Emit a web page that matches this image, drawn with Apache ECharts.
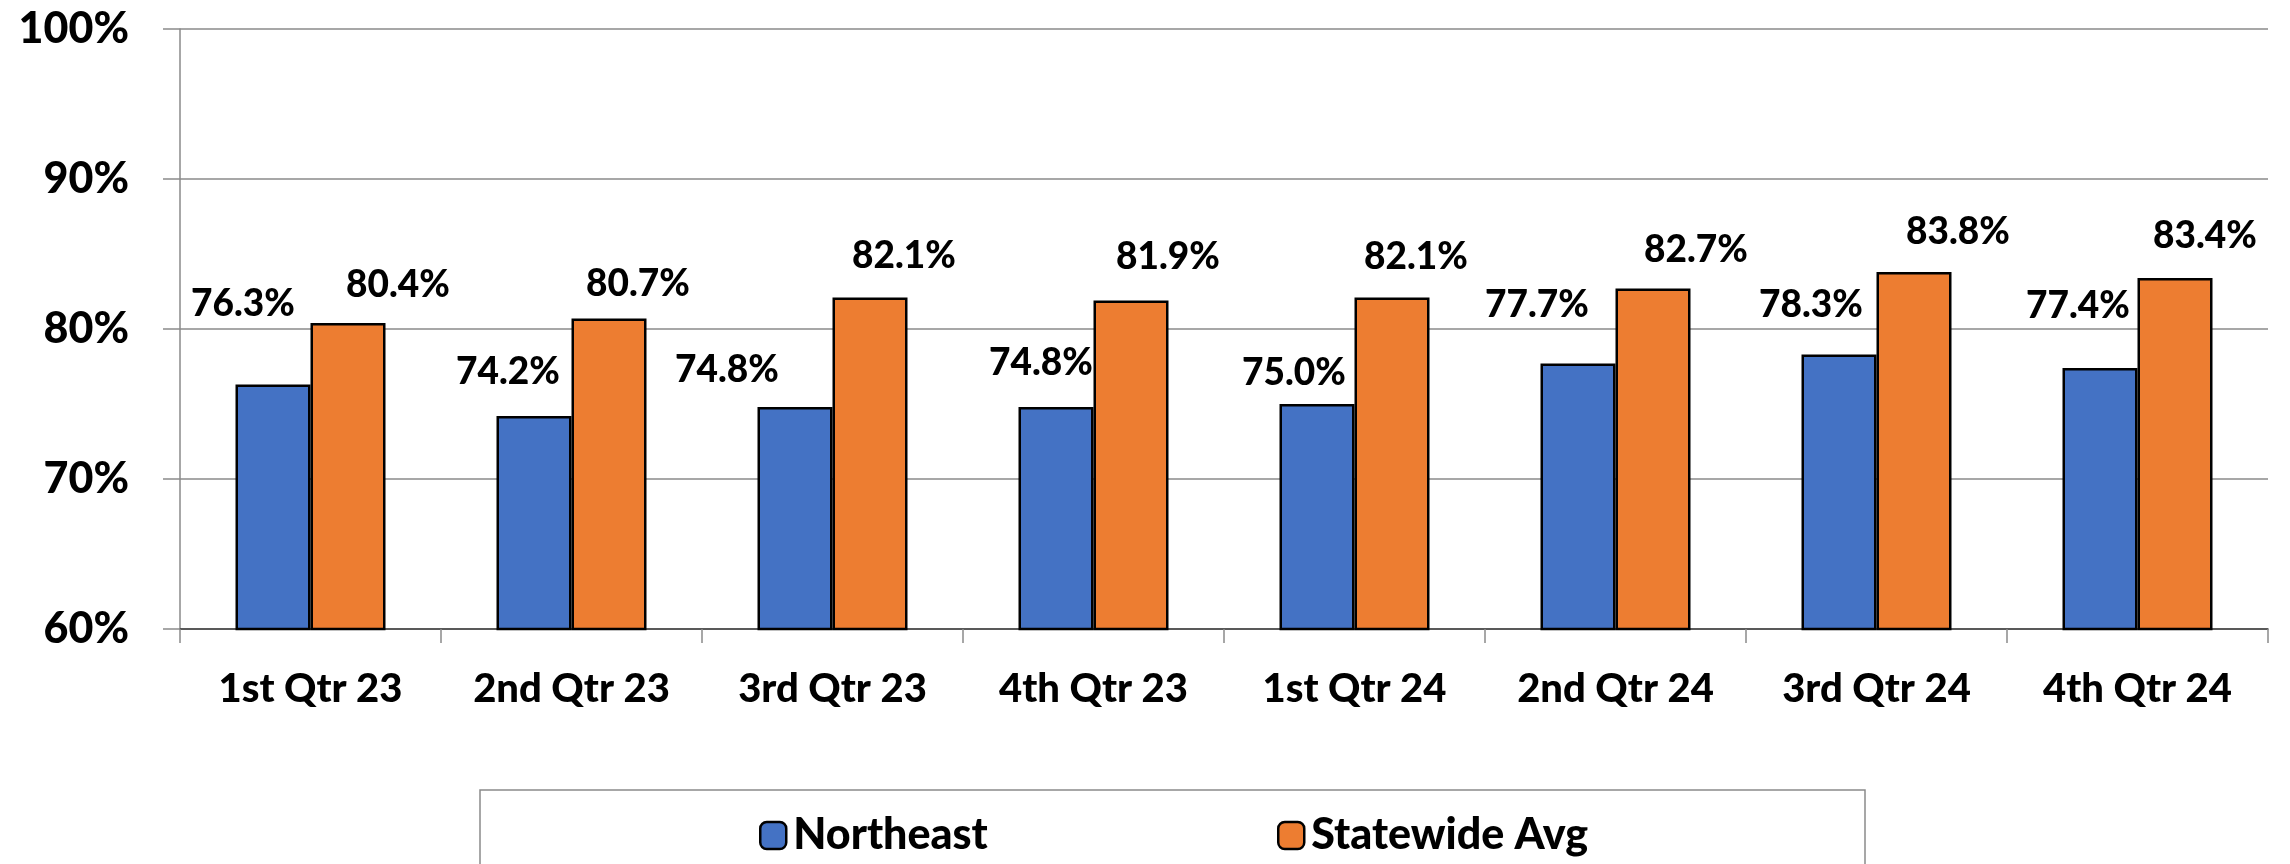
<!DOCTYPE html>
<html>
<head>
<meta charset="utf-8">
<script src="https://cdn.jsdelivr.net/npm/echarts@6/dist/echarts.min.js"></script>
<style>
  html, body { margin: 0; padding: 0; background: #fff; }
  #chart { width: 2290px; height: 864px; }
</style>
</head>
<body>
<div id="chart"></div>
<script>
var categories = ['1st Qtr 23', '2nd Qtr 23', '3rd Qtr 23', '4th Qtr 23', '1st Qtr 24', '2nd Qtr 24', '3rd Qtr 24', '4th Qtr 24'];
var northeast = [76.3, 74.2, 74.8, 74.8, 75.0, 77.7, 78.3, 77.4];
var statewide = [80.4, 80.7, 82.1, 81.9, 82.1, 82.7, 83.8, 83.4];

// label nudges in px (the labels were hand-placed in the original)
var neDx = [-30, -26, -68, -15, -23, -41, -28, -22];
var neRise = [80, 44, 37, 44, 31, 58, 49, 62];
var swDx = [50, 29, 34, 37, 24, 43, 44, 30];
var swRise = [38, 34, 41, 43, 40, 38, 40, 42];

var FONT = 'Lato, "Noto Sans", sans-serif';
var WEIGHT = 900;
var LH = 40;

function withLabels(vals, dx, rise) {
	return vals.map(function (v, i) {
		return { value: v, label: { offset: [dx[i], -(rise[i] - LH / 2)] } };
	});
}

var labelStyle = {
	show: true,
	position: 'top',
	distance: 0,
	lineHeight: LH,
	fontSize: 37,
	fontWeight: WEIGHT,
	fontFamily: FONT,
	color: '#000',
	formatter: function (p) { return p.value.toFixed(1) + '%'; }
};

var legendText = {
	fontSize: 43,
	fontWeight: WEIGHT,
	fontFamily: FONT,
	color: '#000',
	padding: [0, 0, 0, 2]
};

var myChart = echarts.init(document.getElementById('chart'));
myChart.setOption({
	animation: false,
	backgroundColor: '#fff',
	grid: { left: 180, right: 22, top: 29, bottom: 235 },
	legend: [
		{
			data: [{ name: 'Northeast', itemStyle: { borderColor: '#000', borderWidth: 2.5 } }],
			left: 759, top: 814, padding: 0,
			itemWidth: 26, itemHeight: 27,
			textStyle: legendText,
			selectedMode: false
		},
		{
			data: [{ name: 'Statewide Avg', itemStyle: { borderColor: '#000', borderWidth: 2.5 } }],
			left: 1277, top: 814, padding: 0,
			itemWidth: 26, itemHeight: 27,
			textStyle: legendText,
			selectedMode: false
		}
	],
	graphic: [{
		type: 'rect',
		shape: { x: 480, y: 790, width: 1385, height: 120 },
		style: { fill: 'none', stroke: '#8a8a8a', lineWidth: 1.5 },
		silent: true
	}],
	xAxis: {
		type: 'category',
		data: categories,
		axisLine: { lineStyle: { color: '#404040', width: 1.5 } },
		axisTick: { show: true, interval: 0, length: 14, lineStyle: { color: '#8a8a8a', width: 1.5 } },
		axisLabel: {
			interval: 0,
			margin: 40,
			fontSize: 40,
			lineHeight: 40,
			fontWeight: WEIGHT,
			fontFamily: FONT,
			color: '#000'
		}
	},
	yAxis: {
		type: 'value',
		min: 60,
		max: 100,
		interval: 10,
		axisLine: { show: true, lineStyle: { color: '#8a8a8a', width: 1.5 } },
		axisTick: { show: true, length: 17, lineStyle: { color: '#8a8a8a', width: 1.5 } },
		splitLine: { lineStyle: { color: '#8a8a8a', width: 1.5 } },
		axisLabel: {
			margin: 51,
			fontSize: 43,
			fontWeight: WEIGHT,
			fontFamily: FONT,
			color: '#000',
			formatter: '{value}%'
		}
	},
	series: [
		{
			name: 'Northeast',
			type: 'bar',
			barWidth: 75,
			barGap: '0%',
			itemStyle: { color: '#4472C4', borderColor: '#000', borderWidth: 2.5 },
			label: labelStyle,
			data: withLabels(northeast, neDx, neRise)
		},
		{
			name: 'Statewide Avg',
			type: 'bar',
			barWidth: 75,
			barGap: '0%',
			itemStyle: { color: '#ED7D31', borderColor: '#000', borderWidth: 2.5 },
			label: labelStyle,
			data: withLabels(statewide, swDx, swRise)
		}
	]
});
</script>
</body>
</html>
